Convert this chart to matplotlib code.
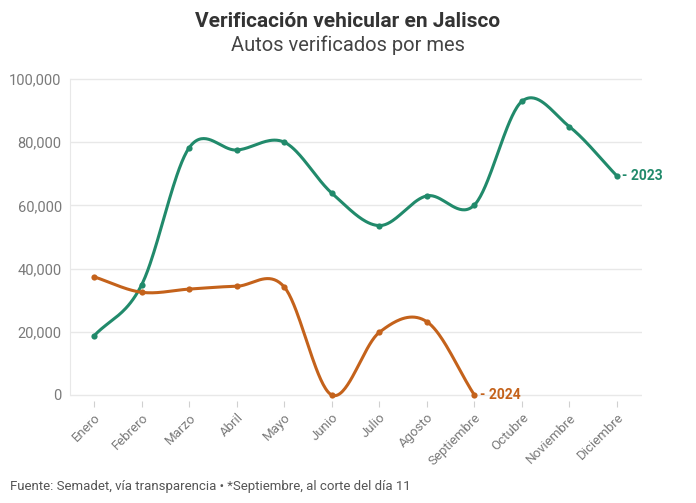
import numpy as np
import matplotlib
matplotlib.use('Agg')
import matplotlib.pyplot as plt

# ── Data ───────────────────────────────────────────────────────────
meses = ['Enero', 'Febrero', 'Marzo', 'Abril', 'Mayo', 'Junio', 'Julio',
         'Agosto', 'Septiembre', 'Octubre', 'Noviembre', 'Diciembre']
autos_2023 = [18700, 34800, 78200, 77500, 80000, 63900, 53600,
              63000, 60100, 92900, 84900, 69300]
autos_2024 = [37400, 32500, 33500, 34400, 34200, 0, 19800, 23200, 0]

GREEN = '#218a6b'
ORANGE = '#c4621b'
GRAY_TXT = '#7a7a7a'
GRID = '#e8e8e8'

plt.rcParams['font.family'] = ['Roboto', 'DejaVu Sans']


def catmull_rom(y, n=40):
    """Uniform Catmull-Rom curve through points (x = 0..len-1)."""
    y = np.asarray(y, dtype=float)
    x = np.arange(len(y), dtype=float)
    px = np.concatenate([[2 * x[0] - x[1]], x, [2 * x[-1] - x[-2]]])
    py = np.concatenate([[2 * y[0] - y[1]], y, [2 * y[-1] - y[-2]]])
    xs, ys = [], []
    t = np.linspace(0, 1, n)
    for i in range(1, len(px) - 2):
        for arr, p in ((xs, px), (ys, py)):
            p0, p1, p2, p3 = p[i - 1], p[i], p[i + 1], p[i + 2]
            arr.append(0.5 * ((2 * p1) + (-p0 + p2) * t
                              + (2 * p0 - 5 * p1 + 4 * p2 - p3) * t ** 2
                              + (-p0 + 3 * p1 - 3 * p2 + p3) * t ** 3))
    return np.concatenate(xs), np.concatenate(ys)


fig = plt.figure(figsize=(6.96, 5.03), dpi=100)
ax = fig.add_axes([0.1006, 0.2022, 0.822, 0.644])

for vals, color, label in [(autos_2023, GREEN, '2023'), (autos_2024, ORANGE, '2024')]:
    cx, cy = catmull_rom(vals)
    ax.plot(cx, cy, color=color, lw=2.2, solid_capstyle='round', zorder=3)
    ax.scatter(range(len(vals)), vals, s=20, color=color, zorder=4, linewidths=0)
    ax.annotate('- ' + label, (len(vals) - 1, vals[-1]), xytext=(4, 0),
                textcoords='offset points', va='center', ha='left',
                color=color, fontsize=10, fontweight='bold', zorder=5)

ax.set_xlim(-0.505, 11.53)
ax.set_ylim(-2000, 100500)

yt = [0, 20000, 40000, 60000, 80000, 100000]
ax.set_yticks(yt)
ax.set_yticklabels([f'{v:,}' for v in yt])
ax.set_xticks(range(len(meses)))
ax.set_xticklabels(meses, rotation=45, ha='right', rotation_mode='anchor')

for v in yt:
    ax.axhline(v, color=GRID, lw=1, zorder=1)

for s in ['top', 'right', 'bottom']:
    ax.spines[s].set_visible(False)
ax.spines['left'].set_color(GRID)
ax.spines['left'].set_bounds(0, 100000)

ax.tick_params(axis='y', length=0, pad=6, labelsize=10.5, labelcolor=GRAY_TXT)
ax.tick_params(axis='x', length=4, color='#d0d0d0', pad=3,
               labelsize=9.5, labelcolor=GRAY_TXT)

fig.text(0.5, 0.958, 'Verificación vehicular en Jalisco', ha='center', va='center',
         fontsize=15, fontweight='bold', color='#333333')
fig.text(0.5, 0.91, 'Autos verificados por mes', ha='center', va='center',
         fontsize=14.5, color='#444444')
fig.text(0.014, 0.033, 'Fuente: Semadet, vía transparencia • *Septiembre, al corte del día 11',
         ha='left', va='center', fontsize=9.5, color='#555555')

fig.savefig('out.png', dpi=100)
plt.close()
